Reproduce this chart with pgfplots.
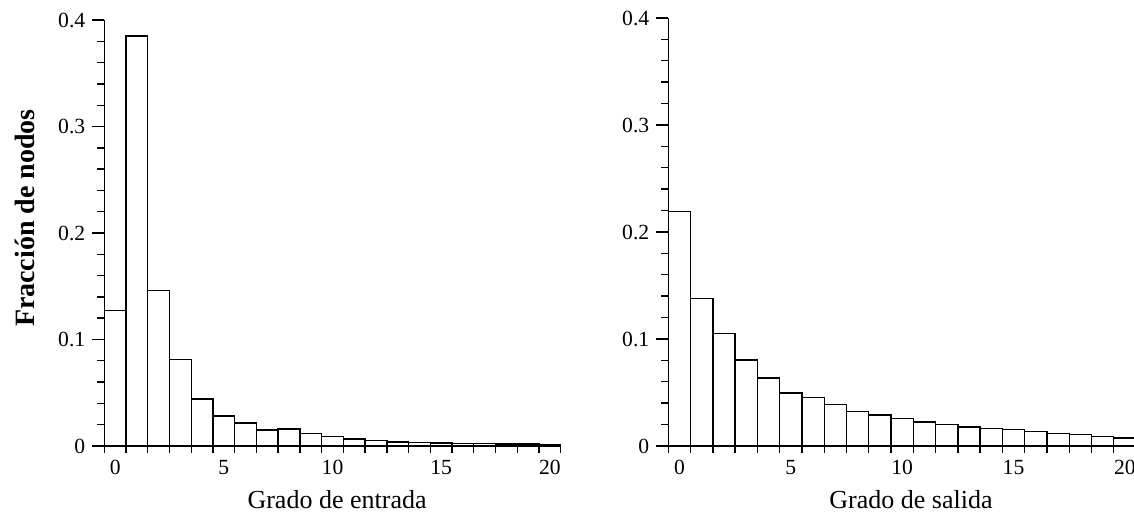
\documentclass[border=0pt]{standalone}
\usepackage{pgfplots}
\pgfplotsset{compat=1.18}
\usepackage{fontspec}
\setmainfont{Liberation Serif}
\pgfplotstableread{
x y
0 0.127
1 0.385
2 0.146
3 0.081
4 0.0443
5 0.028
6 0.0215
7 0.0152
8 0.016
9 0.0115
10 0.0087
11 0.0066
12 0.005
13 0.0039
14 0.0032
15 0.0028
16 0.0024
17 0.0021
18 0.0019
19 0.0017
20 0.0015
}\entrada
\pgfplotstableread{
x y
0 0.219
1 0.138
2 0.105
3 0.0802
4 0.0637
5 0.0495
6 0.0452
7 0.0387
8 0.032
9 0.0289
10 0.0256
11 0.0226
12 0.0203
13 0.0178
14 0.0162
15 0.0153
16 0.0133
17 0.0119
18 0.0105
19 0.009
20 0.0073
}\salida
\pgfplotsset{
  hist/.style={
    scale only axis,
    anchor=south west,
    xmin=-0.5, xmax=20.5,
    ymin=0, ymax=0.4,
    axis x line*=bottom,
    axis y line*=left,
    axis line style={line width=0.7pt},
    tick align=outside,
    major tick length=6pt,
    minor tick length=3.5pt,
    every tick/.style={line width=0.7pt, black},
    xtick={0,5,10,15,20},
    minor xtick={-0.5,0.5,...,20.5},
    major x tick style={draw=none},
    ytick={0,0.1,0.2,0.3,0.4},
    yticklabels={0,0.1,0.2,0.3,0.4},
    minor y tick num=4,
    /pgf/number format/assume math mode=true,
    ticklabel style={font=\fontsize{10.8}{12}\selectfont},
    xticklabel style={yshift=2.5pt},
    clip=false,
  },
  histbar/.style={ybar, bar width=1, bar shift=0pt, fill=white, draw=black, line width=0.7pt},
}
\begin{document}
\begin{tikzpicture}
\useasboundingbox (0,0) rectangle (567pt,259.5pt);
\begin{axis}[hist,
  at={(52.15pt,36.5pt)},
  width=228.2pt, height=213pt,
  xlabel={Grado de entrada},
  xlabel style={at={(axis description cs:0.51,0)}, anchor=center, yshift=-27pt, font=\fontsize{13}{15}\selectfont},
  ylabel={\textbf{Fracción de nodos}},
  ylabel style={at={(axis description cs:-0.174,0.535)}, anchor=center, rotate=0, font=\fontsize{14}{16}\selectfont},
]
\addplot[histbar] table[x=x,y=y] {\entrada};
\end{axis}
\begin{axis}[hist,
  at={(334.15pt,36.5pt)},
  width=233.85pt, height=214pt,
  xlabel={Grado de salida},
  xlabel style={at={(axis description cs:0.519,0)}, anchor=center, yshift=-27pt, font=\fontsize{13}{15}\selectfont},
]
\addplot[histbar] table[x=x,y=y] {\salida};
\end{axis}
\end{tikzpicture}
\end{document}
